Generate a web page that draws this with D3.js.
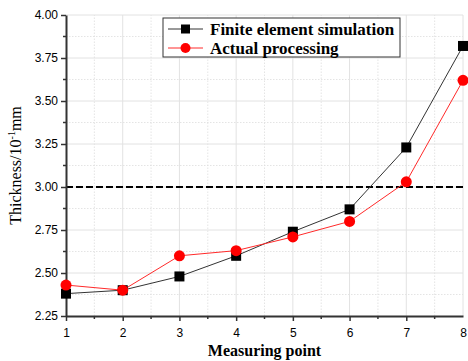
<!DOCTYPE html>
<html>
<head>
<meta charset="utf-8">
<script src="https://cdn.jsdelivr.net/npm/d3@7"></script>
<style>
  body { margin: 0; background: #fff; }
  svg { display: block; }
</style>
</head>
<body>
<div id="chart"></div>
<script>
const points = [1, 2, 3, 4, 5, 6, 7, 8];
const simValues = [2.38, 2.40, 2.48, 2.60, 2.74, 2.87, 3.23, 3.82];
const actualValues = [2.43, 2.40, 2.60, 2.63, 2.71, 2.80, 3.03, 3.62];
const yTicks = [2.25, 2.50, 2.75, 3.00, 3.25, 3.50, 3.75, 4.00];
const refLine = 3.00;

const width = 468, height = 361;
const margin = { top: 15, right: 5, bottom: 45, left: 66 };

const svg = d3.select('#chart').append('svg')
  .attr('width', width)
  .attr('height', height);

const x = d3.scaleLinear().domain([1, 8]).range([margin.left, width - margin.right]);
const y = d3.scaleLinear().domain([2.25, 4.00]).range([height - margin.bottom, margin.top]);

const grid = svg.append('g');
// minor grid (dotted)
const xMinor = d3.range(1.5, 8, 1);
const yMinor = d3.range(2.375, 4, 0.25);
grid.selectAll('.xm').data(xMinor).enter().append('line')
  .attr('x1', d => x(d)).attr('x2', d => x(d))
  .attr('y1', y(2.25)).attr('y2', y(4))
  .attr('stroke', '#ddd').attr('stroke-width', 0.8).attr('stroke-dasharray', '1.5,1.5');
grid.selectAll('.ym').data(yMinor).enter().append('line')
  .attr('y1', d => y(d)).attr('y2', d => y(d))
  .attr('x1', x(1)).attr('x2', x(8))
  .attr('stroke', '#ddd').attr('stroke-width', 0.8).attr('stroke-dasharray', '1.5,1.5');
// major grid
grid.selectAll('.xg').data(points.slice(1)).enter().append('line')
  .attr('x1', d => x(d)).attr('x2', d => x(d))
  .attr('y1', y(2.25)).attr('y2', y(4))
  .attr('stroke', '#e2e2e2').attr('stroke-width', 1);
grid.selectAll('.yg').data(yTicks.slice(1)).enter().append('line')
  .attr('y1', d => y(d)).attr('y2', d => y(d))
  .attr('x1', x(1)).attr('x2', x(8))
  .attr('stroke', '#e2e2e2').attr('stroke-width', 1);

// reference dashed line
svg.append('line')
  .attr('x1', x(1)).attr('x2', width - 2)
  .attr('y1', y(refLine)).attr('y2', y(refLine))
  .attr('stroke', '#000').attr('stroke-width', 2).attr('stroke-dasharray', '7,3');

// axes
const xAxis = svg.append('g')
  .attr('transform', `translate(0,${y(2.25)})`)
  .call(d3.axisBottom(x).tickValues(points).tickFormat(d3.format('d')).tickSize(5).tickSizeOuter(0));
xAxis.selectAll('.tick').filter(d => d === 8).select('line').remove();
xAxis.append('g').selectAll('line').data(xMinor).enter().append('line')
  .attr('x1', d => x(d)).attr('x2', d => x(d)).attr('y1', 0).attr('y2', 3)
  .attr('stroke', '#333').attr('stroke-width', 1.5);

const yAxis = svg.append('g')
  .attr('transform', `translate(${x(1)},0)`)
  .call(d3.axisLeft(y).tickValues(yTicks).tickFormat(d3.format('.2f')).tickSize(5).tickSizeOuter(0));
yAxis.append('g').selectAll('line').data(yMinor).enter().append('line')
  .attr('y1', d => y(d)).attr('y2', d => y(d)).attr('x1', 0).attr('x2', -3)
  .attr('stroke', '#333').attr('stroke-width', 1.5);

[xAxis, yAxis].forEach(a => {
  a.select('.domain').attr('stroke', '#333').attr('stroke-width', 2);
  a.selectAll('.tick line').attr('stroke', '#333').attr('stroke-width', 1.5);
  a.selectAll('text').attr('font-family', 'Liberation Sans, Arial, sans-serif')
    .attr('font-size', 12).attr('fill', '#000');
});
xAxis.selectAll('.tick text').attr('dy', '1.1em');
yAxis.selectAll('.tick text').attr('x', -8);

// series lines
const line = d3.line().x((d, i) => x(points[i])).y(d => y(d));
svg.append('path').datum(simValues).attr('d', line)
  .attr('fill', 'none').attr('stroke', '#333').attr('stroke-width', 1);
svg.append('path').datum(actualValues).attr('d', line)
  .attr('fill', 'none').attr('stroke', '#ff2a2a').attr('stroke-width', 1);

// markers
svg.selectAll('.sq').data(simValues).enter().append('rect')
  .attr('x', (d, i) => x(points[i]) - 5).attr('y', d => y(d) - 5)
  .attr('width', 10).attr('height', 10).attr('fill', '#000');
svg.selectAll('.ci').data(actualValues).enter().append('circle')
  .attr('cx', (d, i) => x(points[i])).attr('cy', d => y(d))
  .attr('r', 5.5).attr('fill', '#ff0000');

// legend
const lg = svg.append('g');
lg.append('rect').attr('x', 163).attr('y', 18).attr('width', 237).attr('height', 39)
  .attr('fill', '#fff').attr('stroke', '#333').attr('stroke-width', 1);
const legendItems = [
  { label: 'Finite element simulation', color: '#000', line: '#333', shape: 'square' },
  { label: 'Actual processing', color: '#ff0000', line: '#ff2a2a', shape: 'circle' }
];
legendItems.forEach((it, i) => {
  const cy = 29 + i * 19;
  lg.append('line').attr('x1', 168).attr('x2', 203).attr('y1', cy).attr('y2', cy)
    .attr('stroke', it.line).attr('stroke-width', 1);
  if (it.shape === 'square') {
    lg.append('rect').attr('x', 181).attr('y', cy - 4.5).attr('width', 9).attr('height', 9).attr('fill', it.color);
  } else {
    lg.append('circle').attr('cx', 185.5).attr('cy', cy).attr('r', 5).attr('fill', it.color);
  }
  lg.append('text').attr('x', 210).attr('y', cy + 5.5)
    .attr('font-family', 'Liberation Serif, Times New Roman, serif')
    .attr('font-weight', 'bold').attr('font-size', 17).attr('fill', '#000')
    .text(it.label);
});

// axis titles
svg.append('text')
  .attr('x', (x(1) + x(8)) / 2).attr('y', 356)
  .attr('text-anchor', 'middle')
  .attr('font-family', 'Liberation Serif, Times New Roman, serif')
  .attr('font-weight', 'bold').attr('font-size', 16)
  .text('Measuring point');

const yt = svg.append('text')
  .attr('transform', `translate(21,${y(3.125)}) rotate(-90)`)
  .attr('text-anchor', 'middle')
  .attr('font-family', 'Liberation Serif, Times New Roman, serif')
  .attr('font-size', 16);
yt.append('tspan').text('Thickness/10');
yt.append('tspan').attr('dy', -6).attr('font-size', 10).text('-1');
yt.append('tspan').attr('dy', 6).text('mm');
</script>
</body>
</html>
